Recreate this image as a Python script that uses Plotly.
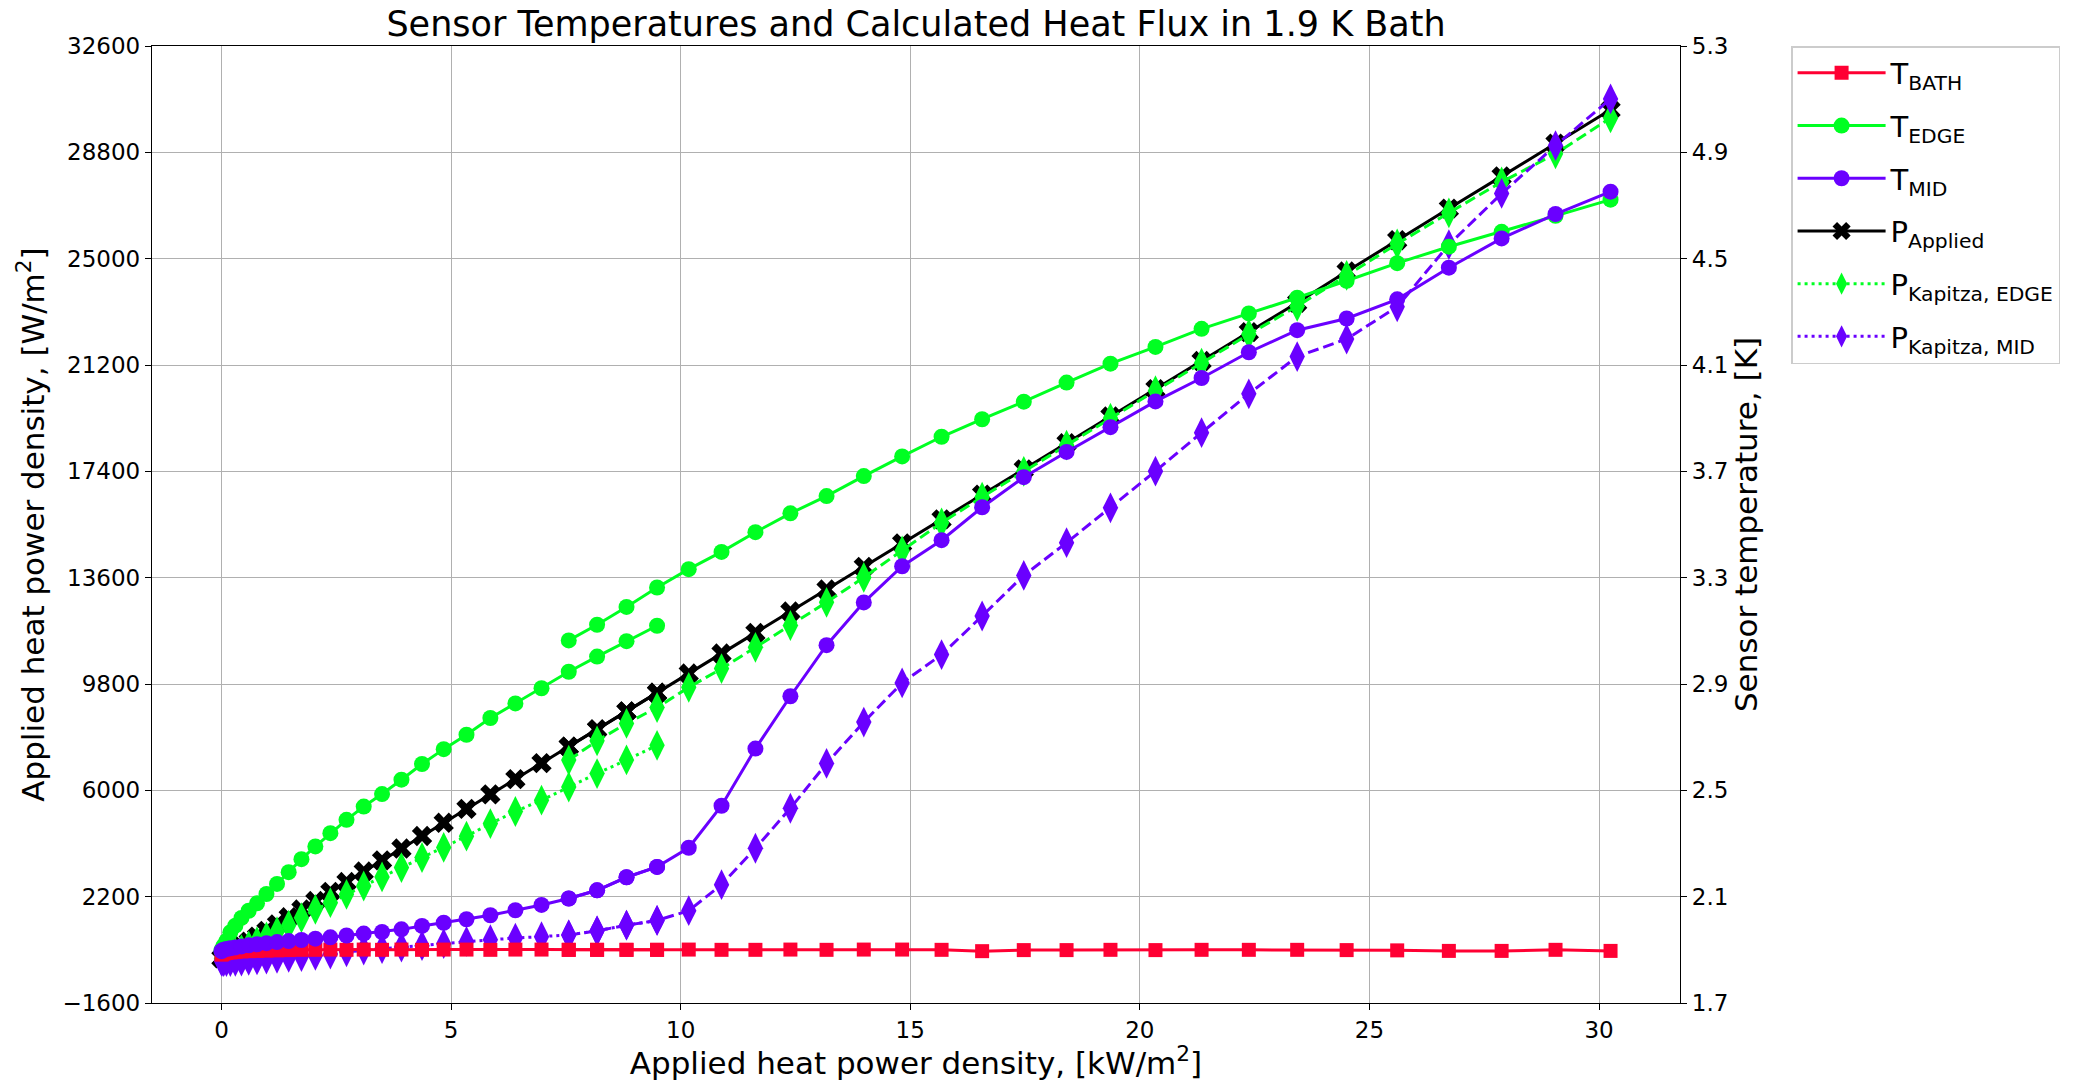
import plotly.graph_objects as go

# ---------------- data ----------------
# run 1 (low power sweep)
x_run1 = [0.0, 0.0121, 0.0484, 0.1089, 0.1936, 0.3025, 0.4356, 0.5929, 0.7744, 0.9801,
          1.210, 1.464, 1.742, 2.045, 2.372, 2.723, 3.098, 3.497, 3.920, 4.368,
          4.840, 5.336, 5.856, 6.401, 6.970, 7.563, 8.180, 8.821, 9.486]
t_bath_run1 = [1.882, 1.884, 1.886, 1.888, 1.890, 1.892, 1.894, 1.895, 1.896, 1.897,
               1.898, 1.899, 1.900, 1.900, 1.901, 1.900, 1.901, 1.900, 1.901, 1.900,
               1.901, 1.901, 1.900, 1.901, 1.901, 1.900, 1.900, 1.900, 1.900]
t_edge_run1 = [1.897, 1.903, 1.916, 1.934, 1.966, 1.991, 2.020, 2.047, 2.075, 2.110,
               2.148, 2.192, 2.241, 2.289, 2.339, 2.389, 2.439, 2.486, 2.540, 2.599,
               2.655, 2.709, 2.772, 2.827, 2.884, 2.946, 3.003, 3.061, 3.119]
t_mid_run1 = [1.895, 1.897, 1.900, 1.903, 1.906, 1.909, 1.913, 1.917, 1.921, 1.925,
              1.929, 1.933, 1.937, 1.942, 1.947, 1.954, 1.961, 1.967, 1.977, 1.990,
              2.002, 2.015, 2.030, 2.049, 2.069, 2.093, 2.124, 2.173, 2.212]
p_applied_run1 = [0, 12, 48, 109, 194, 303, 436, 593, 774, 980,
                  1210, 1464, 1742, 2045, 2372, 2723, 3098, 3497, 3920, 4368,
                  4840, 5336, 5856, 6401, 6970, 7563, 8180, 8821, 9486]
p_kap_edge_run1 = [-20, 0, 20, 60, 120, 200, 310, 440, 590, 760,
                   950, 1180, 1449, 1747, 1986, 2284, 2582, 2904, 3239, 3600,
                   3960, 4360, 4813, 5243, 5648, 6120, 6600, 7085, 7610]
p_kap_mid_run1 = [-100, -110, -120, -120, -120, -110, -100, -80, -60, -30,
                  0, 30, 60, 100, 150, 230, 290, 340, 400, 450,
                  520, 600, 660, 720, 770, 830, 980, 1180, 1350]

# run 2 (high power sweep)
x_run2 = [7.563, 8.180, 8.821, 9.486, 10.176, 10.890, 11.628, 12.390, 13.177, 13.988,
          14.823, 15.682, 16.565, 17.472, 18.404, 19.360, 20.340, 21.344, 22.373, 23.426,
          24.503, 25.604, 26.729, 27.878, 29.052, 30.250]
t_bath_run2 = [1.900, 1.900, 1.900, 1.900, 1.901, 1.900, 1.900, 1.901, 1.900, 1.901,
               1.901, 1.900, 1.895, 1.899, 1.899, 1.900, 1.899, 1.900, 1.900, 1.900,
               1.899, 1.898, 1.896, 1.896, 1.900, 1.896]
t_edge_run2 = [3.064, 3.123, 3.190, 3.263, 3.332, 3.397, 3.471, 3.542, 3.607, 3.682,
               3.756, 3.830, 3.896, 3.962, 4.034, 4.105, 4.168, 4.236, 4.294, 4.353,
               4.417, 4.483, 4.545, 4.601, 4.661, 4.722]
t_mid_run2 = [2.093, 2.124, 2.173, 2.212, 2.284, 2.442, 2.657, 2.854, 3.046, 3.207,
              3.343, 3.441, 3.565, 3.678, 3.773, 3.866, 3.963, 4.051, 4.148, 4.231,
              4.275, 4.347, 4.466, 4.576, 4.668, 4.752]
p_applied_run2 = [7563, 8180, 8821, 9486, 10176, 10890, 11628, 12390, 13177, 13988,
                  14823, 15682, 16565, 17472, 18404, 19360, 20340, 21344, 22373, 23426,
                  24540, 25660, 26790, 27940, 29110, 30320]
p_kap_edge_run2 = [7080, 7770, 8390, 8960, 9680, 10350, 11110, 11890, 12720, 13610,
                   14560, 15560, 16480, 17400, 18340, 19300, 20280, 21270, 22300, 23300,
                   24400, 25530, 26640, 27740, 28750, 30030]
p_kap_mid_run2 = [830, 980, 1180, 1350, 1700, 2630, 3930, 5360, 6960, 8440,
                  9840, 10850, 12230, 13680, 14849, 16096, 17406, 18780, 20171, 21500,
                  22130, 23280, 25500, 27330, 29040, 30710]

left_ticks = [-1600, 2200, 6000, 9800, 13600, 17400, 21200, 25000, 28800, 32600]
left_tick_labels = ["\u22121600", "2200", "6000", "9800", "13600", "17400",
                    "21200", "25000", "28800", "32600"]
right_ticks = [1.7, 2.1, 2.5, 2.9, 3.3, 3.7, 4.1, 4.5, 4.9, 5.3]
x_ticks = [0, 5, 10, 15, 20, 25, 30]

# ---------------- style ----------------
RED = "#ff0033"
GREEN = "#00ff22"
PURPLE = "#6a00ff"
BLACK = "#000000"
FONT = "DejaVu Sans"
LW = 3
DOT = "3px,4px"
DASH = "11px,5px"

fig = go.Figure()

def add(x, y, name, color, symbol, size, dash, yaxis, show, group, rank):
    fig.add_trace(go.Scatter(
        x=x, y=y, name=name, mode="lines+markers", yaxis=yaxis,
        legendgroup=group, showlegend=show, legendrank=rank,
        line=dict(color=color, width=LW, dash=dash),
        marker=dict(color=color, symbol=symbol, size=size, line=dict(width=0)),
    ))

# power series on left axis
add(x_run1, p_applied_run1, "P<sub>Applied</sub>", BLACK, "x", 18, "solid", "y", True, "g4", 4)
add(x_run1, p_kap_edge_run1, "P<sub>Kapitza, EDGE</sub>", GREEN, "diamond-tall", 22, DOT, "y", True, "g5", 5)
add(x_run1, p_kap_mid_run1, "P<sub>Kapitza, MID</sub>", PURPLE, "diamond-tall", 22, DOT, "y", True, "g6", 6)
add(x_run2, p_applied_run2, "P<sub>Applied</sub>", BLACK, "x", 18, "solid", "y", False, "g4", 4)
add(x_run2, p_kap_edge_run2, "P<sub>Kapitza, EDGE</sub>", GREEN, "diamond-tall", 22, DASH, "y", False, "g5", 5)
add(x_run2, p_kap_mid_run2, "P<sub>Kapitza, MID</sub>", PURPLE, "diamond-tall", 22, DASH, "y", False, "g6", 6)

# temperature series on right axis
add(x_run1, t_bath_run1, "T<sub>BATH</sub>", RED, "square", 14, "solid", "y2", True, "g1", 1)
add(x_run1, t_edge_run1, "T<sub>EDGE</sub>", GREEN, "circle", 16, "solid", "y2", True, "g2", 2)
add(x_run1, t_mid_run1, "T<sub>MID</sub>", PURPLE, "circle", 16, "solid", "y2", True, "g3", 3)
add(x_run2, t_bath_run2, "T<sub>BATH</sub>", RED, "square", 14, "solid", "y2", False, "g1", 1)
add(x_run2, t_edge_run2, "T<sub>EDGE</sub>", GREEN, "circle", 16, "solid", "y2", False, "g2", 2)
add(x_run2, t_mid_run2, "T<sub>MID</sub>", PURPLE, "circle", 16, "solid", "y2", False, "g3", 3)

axis_common = dict(
    showline=True, linecolor="black", linewidth=1.3,
    ticks="outside", ticklen=6, tickwidth=1.3, tickcolor="black",
    tickfont=dict(family=FONT, size=23, color="black"),
    zeroline=False,
)

fig.update_layout(
    width=2077, height=1081,
    margin=dict(l=152, r=397, t=46, b=78),
    paper_bgcolor="white", plot_bgcolor="white",
    font=dict(family=FONT, color="black"),
    title=dict(text="Sensor Temperatures and Calculated Heat Flux in 1.9 K Bath",
               font=dict(family=FONT, size=35, color="black"),
               x=0.5, xref="paper", xanchor="center", y=0.978, yref="container", yanchor="middle"),
    xaxis=dict(range=[-1.5125, 31.7625], tickvals=x_ticks, mirror=True,
               showgrid=True, gridcolor="#b0b0b0", gridwidth=1,
               title=dict(text="Applied heat power density, [kW/m<sup>2</sup>]",
                          font=dict(family=FONT, size=31, color="black"), standoff=6),
               **axis_common),
    yaxis=dict(range=[-1600, 32600], tickvals=left_ticks, ticktext=left_tick_labels,
               showgrid=True, gridcolor="#b0b0b0", gridwidth=1,
               title=dict(text="Applied heat power density, [W/m<sup>2</sup>]",
                          font=dict(family=FONT, size=31, color="black"), standoff=8),
               **axis_common),
    yaxis2=dict(range=[1.7, 5.3], tickvals=right_ticks, tickformat=".1f",
                overlaying="y", side="right", showgrid=False,
                title=dict(text="Sensor temperature, [K]",
                           font=dict(family=FONT, size=31, color="black"), standoff=4),
                **axis_common),
    legend=dict(x=1.0727, y=1.0, xanchor="left", yanchor="top",
                bgcolor="white", bordercolor="#cccccc", borderwidth=1.5,
                font=dict(family=FONT, size=29, color="black"),
                traceorder="grouped", tracegroupgap=12, itemwidth=88,
                itemsizing="trace"),
)

fig.write_html("out.html")
